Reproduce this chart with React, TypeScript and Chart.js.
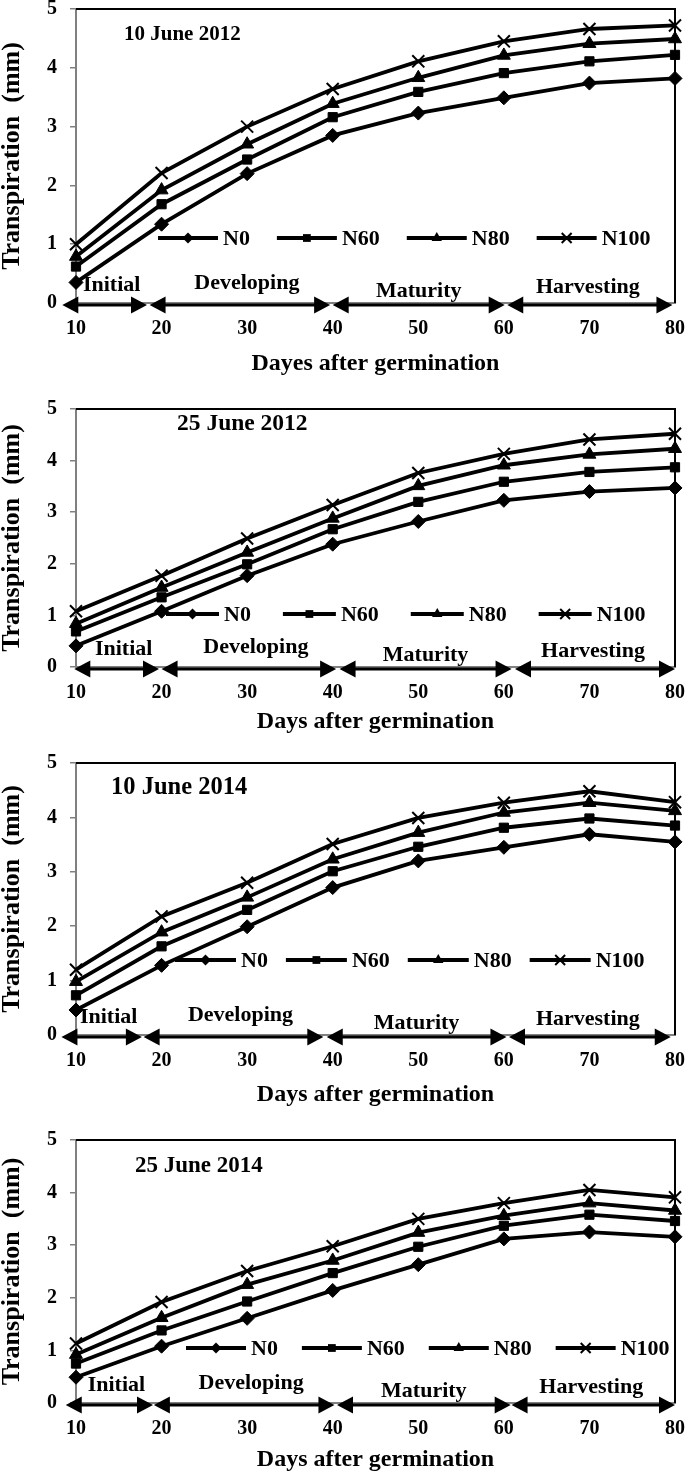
import React, { useEffect, useRef } from "react";
import { Chart, registerables } from "chart.js";

Chart.register(...registerables);

// ---------- data ----------
const days = [10, 20, 30, 40, 50, 60, 70, 80];
const seriesNames = ["N0", "N60", "N80", "N100"];
const pointStyles = ["rectRot", "rect", "triangle", "crossRot"];
const phaseNames = ["Initial", "Developing", "Maturity", "Harvesting"];

// 10 June 2012
const p1N0 = [0.35, 1.34, 2.2, 2.85, 3.23, 3.49, 3.74, 3.82];
const p1N60 = [0.62, 1.68, 2.44, 3.16, 3.59, 3.91, 4.11, 4.22];
const p1N80 = [0.79, 1.92, 2.7, 3.39, 3.83, 4.21, 4.41, 4.49];
const p1N100 = [1.0, 2.21, 3.0, 3.64, 4.11, 4.45, 4.66, 4.72];
const p1PhaseStart = [8.4, 18.6, 40.0, 60.4];
const p1PhaseEnd = [18.3, 39.7, 60.1, 79.7];

// 25 June 2012
const p2N0 = [0.41, 1.08, 1.77, 2.38, 2.82, 3.23, 3.4, 3.47];
const p2N60 = [0.69, 1.35, 1.99, 2.67, 3.2, 3.59, 3.78, 3.87];
const p2N80 = [0.84, 1.54, 2.22, 2.88, 3.51, 3.91, 4.12, 4.23];
const p2N100 = [1.08, 1.77, 2.49, 3.14, 3.76, 4.13, 4.41, 4.52];
const p2PhaseStart = [9.8, 20.0, 40.8, 61.3];
const p2PhaseEnd = [19.7, 40.4, 60.9, 80.0];

// 10 June 2014
const p3N0 = [0.46, 1.28, 1.99, 2.71, 3.2, 3.45, 3.69, 3.55];
const p3N60 = [0.73, 1.63, 2.3, 3.01, 3.46, 3.81, 3.98, 3.85];
const p3N80 = [0.98, 1.89, 2.53, 3.23, 3.72, 4.09, 4.27, 4.12];
const p3N100 = [1.2, 2.18, 2.8, 3.51, 3.99, 4.27, 4.48, 4.28];
const p3PhaseStart = [8.3, 17.9, 39.3, 60.6];
const p3PhaseEnd = [17.7, 38.9, 60.3, 79.5];

// 25 June 2014
const p4N0 = [0.49, 1.08, 1.61, 2.14, 2.63, 3.12, 3.25, 3.16];
const p4N60 = [0.75, 1.38, 1.93, 2.47, 2.97, 3.37, 3.58, 3.46];
const p4N80 = [0.92, 1.62, 2.25, 2.71, 3.24, 3.56, 3.8, 3.66];
const p4N100 = [1.13, 1.92, 2.51, 2.98, 3.5, 3.8, 4.05, 3.91];
const p4PhaseStart = [8.8, 19.1, 40.5, 60.9];
const p4PhaseEnd = [19.0, 40.2, 60.8, 80.0];

// ---------- styles / layout ----------
const FONT = '"Liberation Serif", "Times New Roman", Times, serif';
const PADTOP = 24;
const CANVAS_W = 699;
const AXIS_GREY = "#808080";
const phaseLabelDx = [7, 7, 0, -2];
const phaseLabelDy = [-18, -20, -12, -16];
const markerRadius = [7, 6.5, 7.5, 8.5];
const legendMarkerRadius = [5.5, 5.5, 6, 7];

type Panel = {
  title: string;
  xTitle: string;
  series: number[][];
  phaseStart: number[];
  phaseEnd: number[];
  plotTop: number;
  plotBottom: number;
  bottomH: number;
  titleDx: number;
  titleDy: number;
  titleSize: number;
  legendDx: number;
  legendDy: number;
  legendLine: number;
  legendGap: number;
};

const panels: Panel[] = [
  {
    title: "10 June 2012", xTitle: "Dayes after germination",
    series: [p1N0, p1N60, p1N80, p1N100], phaseStart: p1PhaseStart, phaseEnd: p1PhaseEnd,
    plotTop: 8, plotBottom: 303, bottomH: 79,
    titleDx: 48, titleDy: 26, titleSize: 21,
    legendDx: 82, legendDy: 229, legendLine: 60, legendGap: 27,
  },
  {
    title: "25 June 2012", xTitle: "Days after germination",
    series: [p2N0, p2N60, p2N80, p2N100], phaseStart: p2PhaseStart, phaseEnd: p2PhaseEnd,
    plotTop: 408, plotBottom: 667, bottomH: 73,
    titleDx: 101, titleDy: 15, titleSize: 23.5,
    legendDx: 90, legendDy: 205, legendLine: 53, legendGap: 32,
  },
  {
    title: "10 June 2014", xTitle: "Days after germination",
    series: [p3N0, p3N60, p3N80, p3N100], phaseStart: p3PhaseStart, phaseEnd: p3PhaseEnd,
    plotTop: 762, plotBottom: 1035, bottomH: 78,
    titleDx: 35, titleDy: 25, titleSize: 24.5,
    legendDx: 99, legendDy: 197, legendLine: 61, legendGap: 18,
  },
  {
    title: "25 June 2014", xTitle: "Days after germination",
    series: [p4N0, p4N60, p4N80, p4N100], phaseStart: p4PhaseStart, phaseEnd: p4PhaseEnd,
    plotTop: 1139, plotBottom: 1403, bottomH: 75,
    titleDx: 59, titleDy: 26, titleSize: 23,
    legendDx: 110, legendDy: 208, legendLine: 60, legendGap: 24,
  },
];

function drawMarker(ctx: CanvasRenderingContext2D, style: string, x: number, y: number, r: number) {
  ctx.beginPath();
  if (style === "rectRot") {
    ctx.moveTo(x, y - r);
    ctx.lineTo(x + r, y);
    ctx.lineTo(x, y + r);
    ctx.lineTo(x - r, y);
    ctx.closePath();
    ctx.fill();
  } else if (style === "rect") {
    const s = r * Math.SQRT1_2;
    ctx.rect(x - s, y - s, 2 * s, 2 * s);
    ctx.fill();
  } else if (style === "triangle") {
    ctx.moveTo(x, y - r);
    ctx.lineTo(x + r * 0.866, y + r * 0.5);
    ctx.lineTo(x - r * 0.866, y + r * 0.5);
    ctx.closePath();
    ctx.fill();
  } else {
    const d = r * Math.SQRT1_2;
    ctx.lineWidth = 2;
    ctx.moveTo(x - d, y - d);
    ctx.lineTo(x + d, y + d);
    ctx.moveTo(x + d, y - d);
    ctx.lineTo(x - d, y + d);
    ctx.stroke();
  }
}

function makeDecor(p: Panel) {
  return {
    id: "decor",
    afterDraw(chart: any) {
      const { ctx, chartArea: a } = chart;
      const xs = chart.scales.x;
      const ys = chart.scales.y;
      ctx.save();
      ctx.fillStyle = "#000";
      ctx.strokeStyle = "#000";

      // top and right frame
      ctx.lineWidth = 2;
      ctx.beginPath();
      ctx.moveTo(a.left, a.top);
      ctx.lineTo(a.right, a.top);
      ctx.lineTo(a.right, a.bottom);
      ctx.stroke();

      // panel title
      ctx.font = `bold ${p.titleSize}px ${FONT}`;
      ctx.textAlign = "left";
      ctx.textBaseline = "middle";
      ctx.fillText(p.title, a.left + p.titleDx, a.top + p.titleDy);

      // legend
      ctx.font = `bold 22px ${FONT}`;
      let lx = a.left + p.legendDx;
      const ly = a.top + p.legendDy;
      chart.data.datasets.forEach((ds: any, i: number) => {
        ctx.lineWidth = 3.8;
        ctx.beginPath();
        ctx.moveTo(lx, ly);
        ctx.lineTo(lx + p.legendLine, ly);
        ctx.stroke();
        drawMarker(ctx, ds.pointStyle, lx + p.legendLine / 2, ly, legendMarkerRadius[i]);
        ctx.textAlign = "left";
        ctx.fillText(ds.label, lx + p.legendLine + 5, ly + 1);
        lx += p.legendLine + 5 + ctx.measureText(ds.label).width + p.legendGap;
      });

      // phase arrows
      const axisY = ys.getPixelForValue(0);
      const ay = axisY + 2;
      const head = 16;
      const hh = 8.5;
      phaseNames.forEach((name, i) => {
        const x1 = xs.getPixelForValue(p.phaseStart[i]);
        const x2 = xs.getPixelForValue(p.phaseEnd[i]);
        ctx.lineWidth = 3;
        ctx.beginPath();
        ctx.moveTo(x1 + head - 2, ay);
        ctx.lineTo(x2 - head + 2, ay);
        ctx.stroke();
        ctx.beginPath();
        ctx.moveTo(x1, ay);
        ctx.lineTo(x1 + head, ay - hh);
        ctx.lineTo(x1 + head, ay + hh);
        ctx.closePath();
        ctx.fill();
        ctx.beginPath();
        ctx.moveTo(x2, ay);
        ctx.lineTo(x2 - head, ay - hh);
        ctx.lineTo(x2 - head, ay + hh);
        ctx.closePath();
        ctx.fill();
        ctx.font = `bold 22px ${FONT}`;
        ctx.textAlign = "center";
        ctx.textBaseline = "middle";
        ctx.fillText(name, (x1 + x2) / 2 + phaseLabelDx[i], axisY + phaseLabelDy[i]);
      });
      ctx.restore();
    },
  };
}

function PanelChart({ p }: { p: Panel }) {
  const ref = useRef<HTMLCanvasElement | null>(null);
  const plotH = p.plotBottom - p.plotTop;
  const canvasH = PADTOP + plotH + p.bottomH;
  const canvasTop = p.plotTop - PADTOP;

  useEffect(() => {
    if (!ref.current) return;
    const chart = new Chart(ref.current, {
      type: "line",
      data: {
        datasets: p.series.map((vals, i) => ({
          label: seriesNames[i],
          data: days.map((d, j) => ({ x: d, y: vals[j] })),
          borderColor: "#000",
          backgroundColor: "#000",
          borderWidth: 3.8,
          pointStyle: pointStyles[i] as any,
          pointRadius: markerRadius[i],
          pointBackgroundColor: "#000",
          pointBorderColor: "#000",
          pointBorderWidth: i === 3 ? 2 : 1,
          tension: 0,
          clip: false as any,
        })),
      },
      options: {
        animation: false,
        responsive: false,
        maintainAspectRatio: false,
        layout: { padding: { top: PADTOP, right: 10, left: 0, bottom: 0 } },
        plugins: { legend: { display: false }, tooltip: { enabled: false } },
        scales: {
          x: {
            type: "linear",
            min: 10,
            max: 80,
            afterFit: (s: any) => { s.height = p.bottomH; },
            ticks: {
              stepSize: 10,
              padding: 14,
              color: "#000",
              font: { family: FONT, size: 20, weight: "bold" },
            },
            grid: { display: false, drawTicks: false },
            border: { display: true, color: AXIS_GREY, width: 2 },
            title: {
              display: true,
              text: p.xTitle,
              color: "#000",
              font: { family: FONT, size: 24, weight: "bold" },
              padding: { top: 4, bottom: 4 },
            },
          },
          y: {
            min: 0,
            max: 5,
            afterFit: (s: any) => { s.width = 76; },
            ticks: {
              stepSize: 1,
              padding: 13,
              color: "#000",
              font: { family: FONT, size: 20, weight: "bold" },
            },
            grid: {
              display: true,
              drawOnChartArea: false,
              drawTicks: true,
              tickLength: 6,
              color: AXIS_GREY,
              lineWidth: 1.5,
            },
            border: { display: true, color: AXIS_GREY, width: 2 },
            title: {
              display: true,
              text: "Transpiration  (mm)",
              color: "#000",
              font: { family: FONT, size: 26, weight: "bold", lineHeight: 1 },
              padding: { top: -1, bottom: 0 },
            },
          },
        },
      },
      plugins: [makeDecor(p)],
    });
    return () => chart.destroy();
  }, []);

  return (
    <canvas
      ref={ref}
      width={CANVAS_W}
      height={canvasH}
      style={{ position: "absolute", left: 0, top: canvasTop, width: CANVAS_W, height: canvasH }}
    />
  );
}

export default function App() {
  return (
    <div style={{ position: "absolute", left: 0, top: 0, width: 685, height: 1472, background: "#fff", overflow: "hidden" }}>
      {panels.map((p, i) => (
        <PanelChart key={i} p={p} />
      ))}
    </div>
  );
}
